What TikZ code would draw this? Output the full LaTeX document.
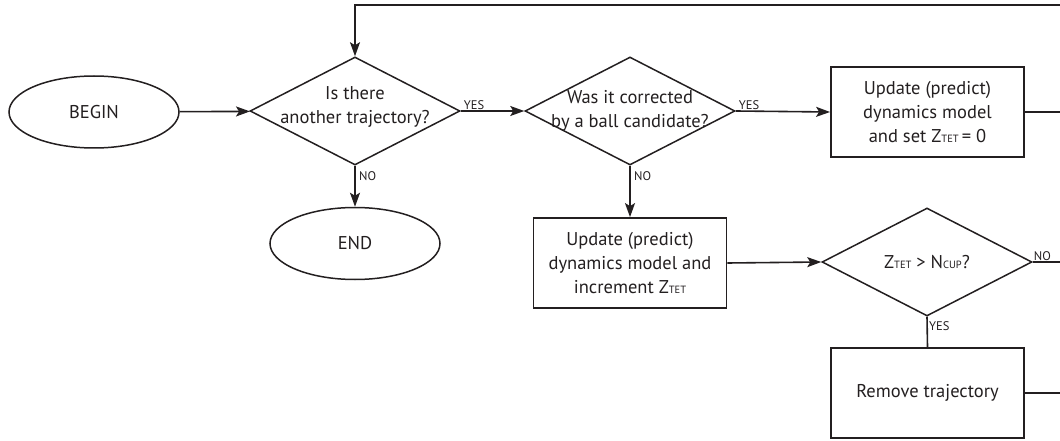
\documentclass[tikz,border=0pt]{standalone}
\usepackage{fontspec}
\setmainfont{PT Sans}
\usetikzlibrary{shapes.geometric,arrows.meta,calc}
\definecolor{ink}{HTML}{231F20}
\newcommand\subc[1]{{\fontsize{10.5}{10.5}\selectfont #1}}
\begin{document}
\begin{tikzpicture}[x=1pt,y=-1pt,
  line/.style={draw=ink, line width=1.6pt},
  arr/.style={line, -{Stealth[length=14pt,width=10pt,inset=3pt]}},
  txt/.style={font=\fontsize{18.5}{24}\selectfont, text=ink, align=center},
  term/.style={ellipse, draw=ink, line width=1.5pt, minimum width=170pt, minimum height=72pt, inner sep=0pt, txt},
  proc/.style={rectangle, draw=ink, line width=1.8pt, minimum width=193pt, minimum height=90pt, inner sep=0pt, txt},
  dec/.style={diamond, draw=ink, line width=1.5pt, minimum width=210pt, minimum height=108pt, inner sep=0pt},
  lbl/.style={font=\fontsize{12.5}{13}\selectfont, text=ink, inner sep=1pt}]
\useasboundingbox (0,0) rectangle (1060,441);
\node[term] (begin) at (94,112) {BEGIN};
\node[dec, label={[txt,yshift=4pt]center:{Is there\\another trajectory?}}] (d1) at (355,111) {};
\node[dec, label={[txt]center:{Was it corrected\\by a ball candidate?}}] (d2) at (630,111) {};
\node[proc] (box1) at (927.5,112) {Update (predict)\\dynamics model\\and set Z\subc{TET}\,= 0};
\node[term] (end) at (355,243.5) {END};
\node[proc] (box2) at (630,263) {Update (predict)\\dynamics model and\\increment Z\subc{TET}};
\node[dec, label={[txt]center:{Z\subc{TET} > N\subc{CUP}?}}] (d3) at (927,262) {};
\node[proc] (box3) at (927.5,393) {Remove trajectory};
\coordinate (rx) at (1063,5);

\draw[arr] (begin) -- (d1);
\draw[arr] (d1.east) -- (d2.west);
\draw[arr] (d2.east) -- (box1.west);
\draw[arr] (d1.south) -- (end.north);
\draw[arr] (d2.south) -- (box2.north);
\draw[arr] (box2.east) -- (d3.west);
\draw[line] (d3.south) -- (box3.north);
\draw[line] (box1.east) -- (box1.east -| rx);
\draw[line] (d3.east) -- (d3.east -| rx);
\draw[arr] (box3.east) -| (rx) -| (d1.north);

\node[lbl, anchor=south west] at ([xshift=2pt]d1.east) {YES};
\node[lbl, anchor=north west] at ([xshift=3pt,yshift=-5pt]d1.south) {NO};
\node[lbl, anchor=south west] at ([xshift=2pt]d2.east) {YES};
\node[lbl, anchor=north west] at ([xshift=3pt,yshift=-5pt]d2.south) {NO};
\node[lbl, anchor=south west] at (d3.east) {NO};
\node[lbl, anchor=north west] at ([xshift=1pt,yshift=-4pt]d3.south) {YES};
\end{tikzpicture}
\end{document}
